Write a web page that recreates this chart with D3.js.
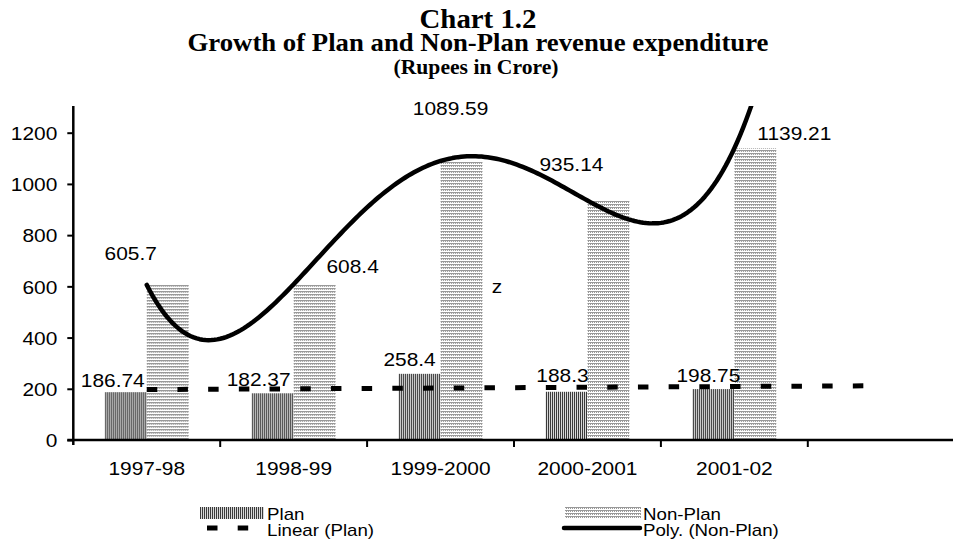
<!DOCTYPE html>
<html>
<head>
<meta charset="utf-8">
<script src="https://cdn.jsdelivr.net/npm/d3@7"></script>
<style>
  body { margin: 0; background: #fff; }
  svg { display: block; }
  text { font-family: "Liberation Sans", Arial, sans-serif; fill: #000; }
  .title { font-family: "Liberation Serif", "Times New Roman", serif; font-weight: bold; }
</style>
</head>
<body>
<div id="chart"></div>
<script>
// data
const categories = ['1997-98', '1998-99', '1999-2000', '2000-2001', '2001-02']
const planValues = [186.74, 182.37, 258.4, 188.3, 198.75]
const nonPlanValues = [605.7, 608.4, 1089.59, 935.14, 1139.21]
const yTicks = [0, 200, 400, 600, 800, 1000, 1200]

// hand placed data labels (pixel nudges from bar top centre)
const planLabelNudge = [[-13, -5], [-14, -7], [-10, -8], [-4, -10], [-5, -7]]
const nonPlanLabelNudge = [[-37, -25], [38, -11], [-11, -46], [-37, -30], [39, -8]]

const width = 953
const height = 543
const plotLeft = 73.3
const plotRight = 954.7
const plotTop = 106
const plotBottom = 440

const svg = d3.select('#chart')
  .append('svg')
  .attr('width', width)
  .attr('height', height)

const defs = svg.append('defs')

// vertical stripes for Plan
const planPat = defs.append('pattern')
  .attr('id', 'planPat')
  .attr('patternUnits', 'userSpaceOnUse')
  .attr('width', 2)
  .attr('height', 4)
planPat.append('rect').attr('width', 2).attr('height', 4).attr('fill', '#d8d8d8')
planPat.append('rect').attr('width', 1).attr('height', 4).attr('fill', '#3a3a3a')

// fine dotted texture for Non-Plan
const nonPat = defs.append('pattern')
  .attr('id', 'nonPat')
  .attr('patternUnits', 'userSpaceOnUse')
  .attr('width', 2)
  .attr('height', 3)
nonPat.append('rect').attr('width', 2).attr('height', 3).attr('fill', '#fff')
nonPat.append('rect').attr('width', 2).attr('height', 1).attr('fill', '#999')
nonPat.append('rect').attr('y', 1).attr('width', 1).attr('height', 1).attr('fill', '#999')

defs.append('clipPath')
  .attr('id', 'plotClip')
  .append('rect')
  .attr('x', plotLeft)
  .attr('y', plotTop)
  .attr('width', plotRight - plotLeft)
  .attr('height', plotBottom - plotTop)

// scales
const slots = d3.range(categories.length + 1)
const x = d3.scaleBand().domain(slots).range([plotLeft, plotRight])
const inner = d3.scaleBand().domain(['plan', 'nonPlan']).range([0, x.bandwidth()]).paddingOuter(0.75)
const y = d3.scaleLinear().domain([0, 1200]).range([plotBottom, 132.7])
const xTrend = d3.scaleLinear().domain([1, 2]).range([x(0) + x.bandwidth() / 2, x(1) + x.bandwidth() / 2])

// titles
svg.append('text').attr('class', 'title')
  .attr('x', 478).attr('y', 28)
  .attr('text-anchor', 'middle')
  .attr('textLength', 117).attr('lengthAdjust', 'spacingAndGlyphs')
  .style('font-size', '27px')
  .text('Chart 1.2')
svg.append('text').attr('class', 'title')
  .attr('x', 478).attr('y', 51)
  .attr('text-anchor', 'middle')
  .attr('textLength', 581).attr('lengthAdjust', 'spacingAndGlyphs')
  .style('font-size', '26px')
  .text('Growth of Plan and Non-Plan revenue expenditure')
svg.append('text').attr('class', 'title')
  .attr('x', 476).attr('y', 74)
  .attr('text-anchor', 'middle')
  .attr('textLength', 165).attr('lengthAdjust', 'spacingAndGlyphs')
  .style('font-size', '20px')
  .text('(Rupees in Crore)')

// bars
const rows = categories.map((c, i) => ({ i, plan: planValues[i], nonPlan: nonPlanValues[i] }))

const groups = svg.append('g')
  .selectAll('g')
  .data(rows)
  .join('g')
  .attr('transform', d => `translate(${x(d.i)},0)`)

groups.append('rect')
  .attr('x', inner('plan'))
  .attr('width', inner.bandwidth())
  .attr('y', d => y(d.plan))
  .attr('height', d => y(0) - y(d.plan))
  .attr('fill', 'url(#planPat)')

groups.append('rect')
  .attr('x', inner('nonPlan'))
  .attr('width', inner.bandwidth())
  .attr('y', d => y(d.nonPlan))
  .attr('height', d => y(0) - y(d.nonPlan))
  .attr('fill', 'url(#nonPat)')

// least squares polynomial, x centred for stability
function polyfit(xs, ys, order) {
  const mx = d3.mean(xs)
  const n = order + 1
  const A = d3.range(n).map(() => new Array(n + 1).fill(0))
  xs.forEach((xv, k) => {
    const u = xv - mx
    for (let r = 0; r < n; r++) {
      for (let c = 0; c < n; c++) A[r][c] += Math.pow(u, r + c)
      A[r][n] += ys[k] * Math.pow(u, r)
    }
  })
  for (let p = 0; p < n; p++) {
    let best = p
    for (let r = p + 1; r < n; r++) if (Math.abs(A[r][p]) > Math.abs(A[best][p])) best = r
    ;[A[p], A[best]] = [A[best], A[p]]
    for (let r = 0; r < n; r++) {
      if (r === p) continue
      const f = A[r][p] / A[p][p]
      for (let c = p; c <= n; c++) A[r][c] -= f * A[p][c]
    }
  }
  const coef = A.map((row, r) => row[n] / row[r])
  return xv => coef.reduce((s, c, r) => s + c * Math.pow(xv - mx, r), 0)
}

const xIdx = categories.map((c, i) => i + 1)
const linFit = polyfit(xIdx, planValues, 1)
const polyFit = polyfit(xIdx, nonPlanValues, 4)
const lastX = categories.length + 1

const line = d3.line().x(d => xTrend(d[0])).y(d => y(d[1]))

const trend = svg.append('g').attr('clip-path', 'url(#plotClip)')

trend.append('path')
  .attr('d', line([[1, linFit(1)], [lastX, linFit(lastX)]]))
  .attr('fill', 'none')
  .attr('stroke', '#000')
  .attr('stroke-width', 5)
  .attr('stroke-dasharray', '10.5,20.2')

trend.append('path')
  .attr('d', line(d3.range(1, lastX + 0.001, 0.02).map(v => [v, polyFit(v)])))
  .attr('fill', 'none')
  .attr('stroke', '#000')
  .attr('stroke-width', 4.5)
  .attr('stroke-linecap', 'round')
  .attr('stroke-linejoin', 'round')

// data labels
const labelSize = '19px'
groups.append('text')
  .attr('class', 'wide')
  .attr('x', (d, i) => inner('plan') + inner.bandwidth() / 2 + planLabelNudge[i][0])
  .attr('y', (d, i) => y(d.plan) + planLabelNudge[i][1])
  .attr('text-anchor', 'middle')
  .style('font-size', labelSize)
  .text(d => d.plan)

groups.append('text')
  .attr('class', 'wide')
  .attr('x', (d, i) => inner('nonPlan') + inner.bandwidth() / 2 + nonPlanLabelNudge[i][0])
  .attr('y', (d, i) => y(d.nonPlan) + nonPlanLabelNudge[i][1])
  .attr('text-anchor', 'middle')
  .style('font-size', labelSize)
  .text(d => d.nonPlan)

// stray mark in the source
svg.append('text')
  .attr('class', 'wide')
  .attr('x', 497).attr('y', 293)
  .attr('text-anchor', 'middle')
  .style('font-size', labelSize)
  .text('z')

// y axis
const yAxis = svg.append('g')
  .attr('transform', `translate(${plotLeft},0)`)
  .call(d3.axisLeft(y).tickValues(yTicks).tickFormat(d3.format('d'))
    .tickSize(6).tickSizeOuter(0).tickPadding(10))
yAxis.select('.domain').remove()
yAxis.selectAll('line').attr('stroke', '#000').attr('stroke-width', 2)
yAxis.selectAll('text').attr('class', 'wide').style('font-size', labelSize).attr('dy', '0.36em')
yAxis.append('line')
  .attr('y1', plotTop).attr('y2', plotBottom + 5)
  .attr('stroke', '#000').attr('stroke-width', 2.5)

// x axis
const xAxis = svg.append('g')
  .attr('transform', `translate(0,${plotBottom})`)
  .call(d3.axisBottom(x).tickSize(0).tickPadding(22)
    .tickFormat(i => categories[i] || ''))
xAxis.select('.domain').remove()
xAxis.selectAll('text').attr('class', 'wide').style('font-size', labelSize)
xAxis.append('line')
  .attr('x1', plotLeft - 6).attr('x2', width)
  .attr('stroke', '#000').attr('stroke-width', 2.5)
xAxis.selectAll('.bound')
  .data(slots.slice(1))
  .join('line')
  .attr('class', 'bound')
  .attr('x1', d => x(d)).attr('x2', d => x(d))
  .attr('y1', 0).attr('y2', 7)
  .attr('stroke', '#000').attr('stroke-width', 2)

// legend
const legend = svg.append('g').style('font-size', '17px')
legend.append('rect').attr('x', 200).attr('y', 507).attr('width', 64).attr('height', 12).attr('fill', 'url(#planPat)')
legend.append('text').attr('class', 'wide').attr('x', 267).attr('y', 520).text('Plan')
legend.append('line')
  .attr('x1', 207).attr('x2', 262).attr('y1', 528).attr('y2', 528)
  .attr('stroke', '#000').attr('stroke-width', 5).attr('stroke-dasharray', '10.5,20.2')
legend.append('text').attr('class', 'wide').attr('x', 267).attr('y', 536).text('Linear (Plan)')

legend.append('rect').attr('x', 565).attr('y', 507).attr('width', 76).attr('height', 12).attr('fill', 'url(#nonPat)')
legend.append('text').attr('class', 'wide').attr('x', 643).attr('y', 520).text('Non-Plan')
legend.append('line')
  .attr('x1', 564).attr('x2', 640).attr('y1', 528).attr('y2', 528)
  .attr('stroke', '#000').attr('stroke-width', 4.5).attr('stroke-linecap', 'round')
legend.append('text').attr('class', 'wide').attr('x', 643).attr('y', 536).text('Poly. (Non-Plan)')

// the source glyphs run a little wider than they are tall
svg.selectAll('text.wide').each(function () {
  const w = this.getComputedTextLength()
  d3.select(this).attr('textLength', w * 1.1).attr('lengthAdjust', 'spacingAndGlyphs')
})
</script>
</body>
</html>
